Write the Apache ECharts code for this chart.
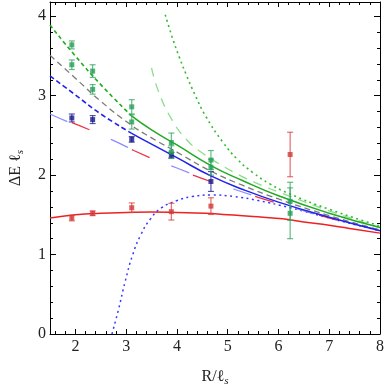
<!DOCTYPE html>
<html>
<head>
<meta charset="utf-8">
<script src="https://cdn.jsdelivr.net/npm/echarts@6/dist/echarts.min.js"></script>
<style>
  html, body { margin: 0; padding: 0; background: #fff; }
  #chart { width: 387px; height: 392px; }
</style>
</head>
<body>
<div id="chart"></div>
<script>
// measured points (x = R/ls, y = ΔE ls, err = half height of the bar)
const greenX = [1.93, 1.93, 2.34, 2.34, 3.11, 3.11, 3.89, 3.89, 4.67, 4.67, 6.23, 6.23];
const greenY = [3.64, 3.39, 3.31, 3.08, 2.86, 2.67, 2.41, 2.29, 2.19, 2.10, 1.67, 1.52];
const greenErr = [0.05, 0.06, 0.08, 0.06, 0.09, 0.09, 0.12, 0.08, 0.12, 0.10, 0.24, 0.32];

const blueX = [1.93, 2.34, 3.11, 3.89, 4.67];
const blueY = [2.72, 2.70, 2.45, 2.25, 1.92];
const blueErr = [0.05, 0.05, 0.035, 0.035, 0.125];

const redX = [1.93, 2.34, 3.11, 3.89, 4.67, 6.23];
const redY = [1.46, 1.52, 1.59, 1.54, 1.61, 2.26];
const redErr = [0.035, 0.03, 0.06, 0.105, 0.105, 0.28];

// curves
const greenDash = [[1.5, 3.89], [2.0, 3.50], [2.5, 3.14], [3.1, 2.75]];
const greenSolid = [[3.1, 2.75], [3.5, 2.57], [4.0, 2.38], [4.67, 2.12], [5.3, 1.93], [6.0, 1.74], [7.0, 1.52], [8.0, 1.34]];
const blueDash = [[1.5, 3.25], [2.0, 3.01], [2.5, 2.77], [3.1, 2.53]];
const blueSolid = [[3.1, 2.53], [3.5, 2.39], [4.0, 2.22], [4.67, 1.99], [5.3, 1.82], [6.0, 1.66], [7.0, 1.47], [8.0, 1.30]];
const grayDash = [[1.5, 3.51], [2.0, 3.22], [2.5, 2.93], [3.1, 2.63], [3.5, 2.47], [4.0, 2.29], [4.67, 2.05], [5.3, 1.87], [6.0, 1.70], [7.0, 1.49], [8.0, 1.31]];
const lightBlueDash = [[1.5, 2.77], [2.0, 2.63], [2.7, 2.45], [3.3, 2.27], [4.0, 2.09], [5.0, 1.85], [6.0, 1.65], [7.0, 1.46], [8.0, 1.31]];
const redLongDash = [[1.93, 2.66], [2.5, 2.51], [3.15, 2.31], [4.0, 2.08], [4.66, 1.92], [5.6, 1.72], [6.5, 1.55], [7.3, 1.41], [8.0, 1.30]];
const redSolid = [[1.5, 1.46], [2.0, 1.50], [2.5, 1.52], [3.0, 1.53], [3.5, 1.535], [4.0, 1.53], [4.56, 1.52], [5.0, 1.50], [5.5, 1.48], [6.08, 1.45], [6.5, 1.41], [7.0, 1.37], [7.5, 1.32], [8.0, 1.27]];
const blueDotted = [[2.72, 0], [2.85, 0.31], [2.98, 0.66], [3.13, 1.0], [3.29, 1.25], [3.48, 1.45], [3.7, 1.59], [4.0, 1.68], [4.3, 1.73], [4.67, 1.75], [5.13, 1.73], [5.6, 1.68], [6.23, 1.59], [7.0, 1.46], [8.0, 1.30]];
const greenDotted = [[3.77, 4.02], [3.9, 3.75], [4.05, 3.48], [4.18, 3.27], [4.35, 3.02], [4.56, 2.75], [4.9, 2.42], [5.19, 2.20], [5.5, 2.03], [5.83, 1.89], [6.2, 1.77], [7.0, 1.57], [8.0, 1.36]];
const lightGreenDash = [[3.5, 3.35], [3.64, 3.05], [3.9, 2.70], [4.2, 2.44], [4.5, 2.28], [4.81, 2.15], [5.2, 2.01], [5.6, 1.89], [6.2, 1.74], [7.0, 1.55], [8.0, 1.34]];

// axes
const xMajor = [2, 3, 4, 5, 6, 7, 8];
const yMajor = [0, 1, 2, 3, 4];
const X_MIN = 1.5, X_MAX = 8, Y_MIN = 0, Y_MAX = 4.18;

function minorTicks(lo, hi, majors) {
    const out = [];
    for (let v = lo; v <= hi + 1e-9; v += 0.2) {
        const r = Math.round(v * 10) / 10;
        if (!majors.includes(r)) out.push(r);
    }
    return out;
}
const xMinor = minorTicks(1.6, 7.8, xMajor);
const yMinor = minorTicks(0.2, 4.0, yMajor);

const FONT = '"Liberation Serif", "DejaVu Serif", serif';

function axis(pos, lo, hi, ticks, len, showLabel, showLine) {
    return {
        type: 'value', position: pos, min: lo, max: hi,
        axisLine: { show: showLine, onZero: false, lineStyle: { color: '#000', width: 1 } },
        axisTick: { show: true, inside: true, length: len, customValues: ticks, lineStyle: { color: '#000', width: 1 } },
        axisLabel: showLabel
            ? { show: true, customValues: ticks, color: '#222', fontFamily: FONT, fontSize: 16, margin: 5 }
            : { show: false },
        splitLine: { show: false }
    };
}

const xAxes = [
    axis('bottom', X_MIN, X_MAX, xMajor, 5, true, true),
    axis('bottom', X_MIN, X_MAX, xMinor, 3, false, false),
    axis('top', X_MIN, X_MAX, xMajor, 5, false, true),
    axis('top', X_MIN, X_MAX, xMinor, 3, false, false)
];
xAxes[0].name = '{t|R/ℓ}{s|s}';
xAxes[0].nameLocation = 'middle';
xAxes[0].nameGap = 33;
xAxes[0].nameTextStyle = {
    rich: {
        t: { fontFamily: FONT, fontSize: 16, color: '#222', lineHeight: 20 },
        s: { fontFamily: FONT, fontSize: 11, fontStyle: 'italic', color: '#222', lineHeight: 20, verticalAlign: 'bottom', padding: [6, 0, 0, 0] }
    }
};

const yAxes = [
    axis('left', Y_MIN, Y_MAX, yMajor, 6, true, true),
    axis('left', Y_MIN, Y_MAX, yMinor, 3, false, false),
    axis('right', Y_MIN, Y_MAX, yMajor, 6, false, true),
    axis('right', Y_MIN, Y_MAX, yMinor, 3, false, false)
];
yAxes[0].axisLabel.margin = 4;
yAxes[0].name = '{t|ΔE ℓ}{s|s}';
yAxes[0].nameLocation = 'middle';
yAxes[0].nameGap = 24;
yAxes[0].nameTextStyle = xAxes[0].nameTextStyle;

function line(data, color, width, dash) {
    return {
        type: 'line', data: data, showSymbol: false, smooth: 0.5,
        lineStyle: { color: color, width: width, type: dash || 'solid', cap: 'butt' },
        silent: true, z: 2
    };
}

function errorBars(xs, ys, errs, color) {
    return {
        type: 'custom',
        data: xs.map((x, i) => [x, ys[i] - errs[i], ys[i] + errs[i]]),
        encode: { x: 0, y: [1, 2] },
        z: 3,
        renderItem: (params, api) => {
            const lo = api.coord([api.value(0), api.value(1)]);
            const hi = api.coord([api.value(0), api.value(2)]);
            const w = 3;
            const st = { stroke: color, lineWidth: 1.2 };
            return {
                type: 'group',
                children: [
                    { type: 'line', shape: { x1: lo[0], y1: lo[1], x2: hi[0], y2: hi[1] }, style: st },
                    { type: 'line', shape: { x1: lo[0] - w, y1: lo[1], x2: lo[0] + w, y2: lo[1] }, style: st },
                    { type: 'line', shape: { x1: hi[0] - w, y1: hi[1], x2: hi[0] + w, y2: hi[1] }, style: st }
                ]
            };
        }
    };
}

function points(xs, ys, color) {
    return {
        type: 'scatter', data: xs.map((x, i) => [x, ys[i]]),
        symbol: 'rect', symbolSize: 5, itemStyle: { color: color }, z: 4
    };
}

const chart = echarts.init(document.getElementById('chart'));
chart.setOption({
    animation: false,
    grid: { left: 39, right: 5, top: 2, bottom: 48 },
    xAxis: xAxes,
    yAxis: yAxes,
    series: [
        line(redSolid, '#ee2222', 1.5),
        line(blueDotted, '#3a3aff', 1.5, [2, 3.5]),
        line(redLongDash, '#ee3344', 1.3, [19, 47]),
        line(lightBlueDash, '#8c8cff', 1.3, [19, 47]),
        line(grayDash, '#7a7a7a', 1.3, [6, 4]),
        line(lightGreenDash, '#8ade8a', 1.3, [9, 7]),
        line(greenDotted, '#33bb33', 1.6, [2, 3.5]),
        line(blueDash, '#2222ee', 1.6, [5, 3]),
        line(blueSolid, '#2222ee', 1.5),
        line(greenDash, '#22aa22', 1.6, [4, 3]),
        line(greenSolid, '#22aa22', 1.5),
        errorBars(redX, redY, redErr, 'rgba(220,60,60,0.75)'),
        errorBars(blueX, blueY, blueErr, 'rgba(40,40,150,0.8)'),
        errorBars(greenX, greenY, greenErr, 'rgba(50,165,95,0.75)'),
        points(redX, redY, '#d23a3a'),
        points(blueX, blueY, '#1c1c8c'),
        points(greenX, greenY, '#27a057')
    ]
});
</script>
</body>
</html>
